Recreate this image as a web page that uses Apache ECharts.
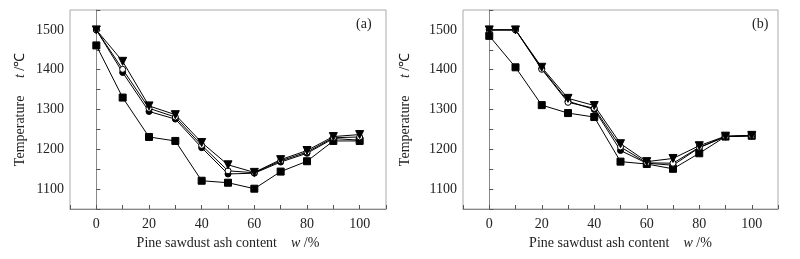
<!DOCTYPE html>
<html>
<head>
<meta charset="utf-8">
<script src="https://cdn.jsdelivr.net/npm/echarts@6/dist/echarts.min.js"></script>
<style>
    html, body { margin: 0; padding: 0; background: #fff; }
    #cn { width: 800px; height: 259px; }
</style>
</head>
<body>
<div id="cn"></div>
<script>
'use strict';

// pine sawdust ash content, w /%
const arrW = [0, 10, 20, 30, 40, 50, 60, 70, 80, 90, 100];

// panel (a)
const arrSquareA = [1461, 1330, 1231, 1221, 1121, 1116, 1101, 1144, 1170, 1221, 1221];
const arrDotA = [1500, 1393, 1295, 1276, 1204, 1138, 1140, 1168, 1190, 1227, 1223];
const arrCircleA = [1500, 1401, 1303, 1281, 1210, 1146, 1141, 1171, 1193, 1229, 1231];
const arrTriA = [1500, 1421, 1309, 1287, 1217, 1161, 1142, 1174, 1197, 1232, 1237];

// panel (b)
const arrSquareB = [1485, 1406, 1311, 1291, 1281, 1169, 1163, 1151, 1190, 1232, 1234];
const arrDotB = [1500, 1500, 1403, 1321, 1300, 1197, 1165, 1160, 1204, 1232, 1234];
const arrCircleB = [1500, 1500, 1401, 1318, 1303, 1206, 1166, 1165, 1205, 1232, 1234];
const arrTriB = [1500, 1500, 1406, 1328, 1310, 1214, 1169, 1177, 1209, 1233, 1235];

const arrPanel = ['(a)', '(b)'];

const font = 'Liberation Serif, Times New Roman, serif';
const colText = '#222';

const pair = (arrY) => arrW.map((w, i) => [w, arrY[i]]);

const makeX = (idx) => ({
    type: 'value',
    gridIndex: idx,
    min: -10,
    max: 110,
    interval: 10,
    name: 'Pine sawdust ash content    {i|w} /%',
    nameLocation: 'middle',
    nameGap: 25,
    nameTextStyle: {
        fontFamily: font, fontSize: 14, color: colText,
        rich: { i: { fontFamily: font, fontSize: 14, fontStyle: 'italic', color: colText } }
    },
    axisLine: { lineStyle: { color: '#888', width: 1 } },
    axisTick: { inside: true, length: 4, lineStyle: { color: '#555' } },
    axisLabel: {
        fontFamily: font, fontSize: 14, color: colText, margin: 8,
        formatter: v => (v >= 0 && v <= 100 && v % 20 === 0) ? String(v) : ''
    },
    splitLine: { show: false }
});

const makeY = (idx, gap) => ({
    type: 'value',
    gridIndex: idx,
    min: 1050,
    max: 1550,
    interval: 50,
    name: 'Temperature     {i|t} /℃',
    nameLocation: 'middle',
    nameGap: gap,
    nameRotate: 90,
    nameTextStyle: {
        fontFamily: font, fontSize: 14, color: colText,
        rich: { i: { fontFamily: font, fontSize: 14, fontStyle: 'italic', color: colText } }
    },
    axisLine: { show: true, lineStyle: { color: '#888', width: 1 } },
    axisTick: { inside: true, length: 4, lineStyle: { color: '#555' } },
    axisLabel: {
        fontFamily: font, fontSize: 14, color: colText, margin: 6,
        formatter: v => (v % 100 === 0 && v <= 1500) ? String(v) : ''
    },
    splitLine: { show: false }
});

const makeSeries = (idx, arrY, kind) => {
    const hsh = {
        type: 'line',
        xAxisIndex: idx,
        yAxisIndex: idx,
        data: pair(arrY),
        lineStyle: { color: '#000', width: 1 },
        itemStyle: { color: '#000', borderColor: '#000', borderWidth: 1 },
        symbolSize: 6,
        z: 3
    };
    if (kind === 'square') {
        hsh.symbol = 'rect';
        hsh.symbolSize = 7;
    } else if (kind === 'dot') {
        hsh.symbol = 'circle';
    } else if (kind === 'circle') {
        hsh.symbol = 'circle';
        hsh.itemStyle = { color: '#fff', borderColor: '#000', borderWidth: 1 };
    } else {
        hsh.symbol = 'triangle';
        hsh.symbolRotate = 180;
        hsh.symbolSize = 8;
    }
    return hsh;
};

const chart = echarts.init(document.getElementById('cn'), null, { renderer: 'canvas' });

const option = {
    animation: false,
    backgroundColor: '#fff',
    grid: [
        { left: 70, right: 414, top: 10, bottom: 50, show: true, borderColor: '#aaa', borderWidth: 1 },
        { left: 463, right: 22, top: 10, bottom: 50, show: true, borderColor: '#aaa', borderWidth: 1 }
    ],
    xAxis: [makeX(0), makeX(1)],
    yAxis: [makeY(0, 43), makeY(1, 51)],
    graphic: [
        { type: 'text', left: 356, top: 17, style: { text: arrPanel[0], font: '14px ' + font, fill: colText } },
        { type: 'text', left: 752, top: 17, style: { text: arrPanel[1], font: '14px ' + font, fill: colText } }
    ],
    series: [
        makeSeries(0, arrSquareA, 'square'),
        makeSeries(0, arrDotA, 'dot'),
        makeSeries(0, arrCircleA, 'circle'),
        makeSeries(0, arrTriA, 'tri'),
        makeSeries(1, arrSquareB, 'square'),
        makeSeries(1, arrDotB, 'dot'),
        makeSeries(1, arrCircleB, 'circle'),
        makeSeries(1, arrTriB, 'tri')
    ]
};

chart.setOption(option);
</script>
</body>
</html>
